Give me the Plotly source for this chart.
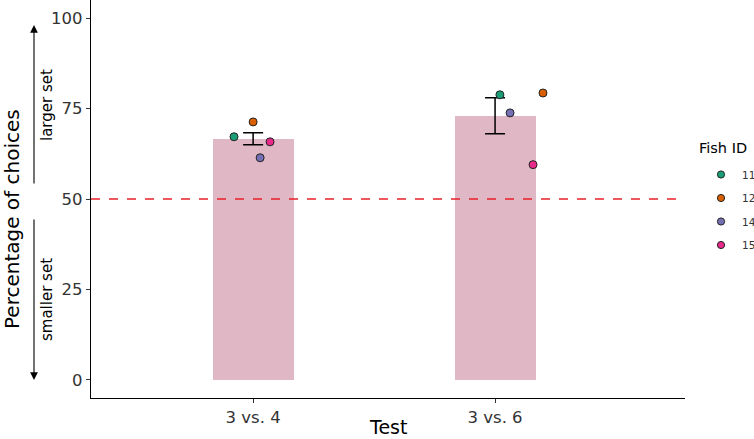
import plotly.graph_objects as go

tests = ["3 vs. 4", "3 vs. 6"]
mean_pct = [66.7, 73.0]
err_hi = [68.3, 78.0]
err_lo = [65.0, 68.0]

fish_ids = ["11", "12", "14", "15"]
fish_colors = ["#1B9E77", "#D95F02", "#7570B3", "#E7298A"]
fish_pct = {
    "11": [67.2, 78.8],
    "12": [71.3, 79.3],
    "14": [61.4, 73.8],
    "15": [65.8, 59.5],
}
fish_jitter = {
    "11": [-0.079, 0.02],
    "12": [0.0, 0.198],
    "14": [0.029, 0.062],
    "15": [0.07, 0.157],
}

xpos = list(range(len(tests)))
font = "DejaVu Sans"

# plot area geometry (pixels)
L, R, T, B = 91, 685, 0, 398
W, H = R - L, B - T

def px_x(p):
    return (p - L) / W

def px_y(p):
    return (B - p) / H

fig = go.Figure()
fig.add_trace(go.Bar(
    x=xpos, y=mean_pct, width=0.335, marker=dict(color="#E0B7C4", line=dict(width=0)),
    showlegend=False, hoverinfo="skip",
))
fig.add_trace(go.Scatter(
    x=xpos, y=mean_pct, mode="markers", marker=dict(size=0.1, color="rgba(0,0,0,0)"),
    error_y=dict(type="data", symmetric=False,
                 array=[h - m for h, m in zip(err_hi, mean_pct)],
                 arrayminus=[m - l for l, m in zip(err_lo, mean_pct)],
                 color="black", thickness=1.5, width=10),
    showlegend=False, hoverinfo="skip",
))
fig.add_hline(y=50, line=dict(color="#E8202A", width=1.3, dash="dash"))
for fid, col in zip(fish_ids, fish_colors):
    fig.add_trace(go.Scatter(
        x=[x + j for x, j in zip(xpos, fish_jitter[fid])], y=fish_pct[fid],
        mode="markers", name=fid, showlegend=False,
        marker=dict(size=8, color=col, line=dict(color="#222222", width=1)),
    ))

fig.update_layout(
    width=754, height=439,
    margin=dict(l=L, r=754 - R, t=T, b=439 - B),
    plot_bgcolor="white", paper_bgcolor="white",
    font=dict(family=font, color="#333333", size=14),
    bargap=0,
    showlegend=False,
    xaxis=dict(range=[-0.67, 1.785], tickvals=xpos, ticktext=tests, automargin=False,
               showline=True, linecolor="black", linewidth=1.2, ticks="outside",
               ticklen=4, tickcolor="#333333", showgrid=False, zeroline=False,
               tickfont=dict(size=16.5, color="#333333")),
    yaxis=dict(range=[-5, 105], tickvals=[0, 25, 50, 75, 100], automargin=False,
               showline=True, linecolor="black", linewidth=1.2, ticks="outside",
               ticklen=4, tickcolor="#333333", showgrid=False, zeroline=False,
               tickfont=dict(size=16.5, color="#333333")),
)

def label(x, y, text, size, color="black", angle=0, xanchor="center"):
    fig.add_annotation(xref="paper", yref="paper", x=px_x(x), y=px_y(y), text=text,
                       xanchor=xanchor, yanchor="middle", textangle=angle,
                       showarrow=False, font=dict(size=size, color=color))

# x-axis title
label((L + R) / 2, 427, "Test", 19)

# manual legend
label(697, 148, "Fish ID", 14.5, xanchor="left")
leg_rows = [174.5, 198, 221.5, 245]
for fid, col, yy in zip(fish_ids, fish_colors, leg_rows):
    fig.add_shape(type="circle", xref="paper", yref="paper",
                  xsizemode="pixel", ysizemode="pixel",
                  xanchor=px_x(721), yanchor=px_y(yy), x0=-3.6, x1=3.6, y0=-3.6, y1=3.6,
                  fillcolor=col, line=dict(color="#222222", width=1))
    label(740, yy, fid, 10.5, color="#333333", xanchor="left")

ax_x = px_x(34)
fig.add_annotation(xref="paper", yref="paper", x=ax_x, y=px_y(25), ax=0, ay=160,
                   showarrow=True, arrowhead=2, arrowsize=1.4, arrowwidth=1.1,
                   arrowcolor="black", text="")
fig.add_annotation(xref="paper", yref="paper", x=ax_x, y=px_y(380), ax=0, ay=-162,
                   showarrow=True, arrowhead=2, arrowsize=1.4, arrowwidth=1.1,
                   arrowcolor="black", text="")
label(47, 105, "larger set", 15, angle=-90)
label(47, 300, "smaller set", 15, angle=-90)
label(12, 219, "Percentage of choices", 20, angle=-90)

fig.write_html("out.html", config={"displayModeBar": False},
               post_script="document.body.style.margin='0px';")
